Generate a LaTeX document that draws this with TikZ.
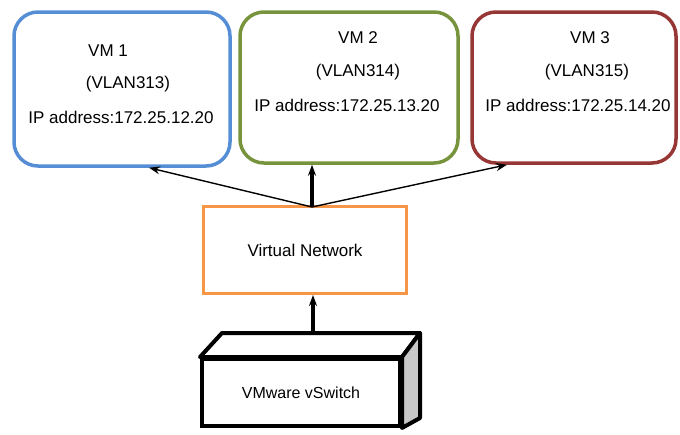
\documentclass[tikz,border=0pt]{standalone}
\usepackage{fontspec}
\setmainfont{Liberation Sans}
\usetikzlibrary{arrows.meta,calc}

\definecolor{vmblue}{RGB}{86,142,214}
\definecolor{vmgreen}{RGB}{119,147,60}
\definecolor{vmred}{RGB}{150,55,53}
\definecolor{netorange}{RGB}{247,150,70}
\definecolor{sidegray}{RGB}{200,200,200}

\begin{document}
\begin{tikzpicture}[x=1pt,y=-1pt,
  vmbox/.style={draw,line width=3.5pt,rounded corners=24pt,inner sep=0pt},
  lbl/.style={font=\fontsize{17}{20}\selectfont,inner sep=0pt},
  link/.style={-{Stealth[length=11pt,width=8pt]},line width=1.4pt},
  trunk/.style={-{Stealth[length=11pt,width=8pt]},line width=3.8pt}]
\useasboundingbox (0,0) rectangle (680,434);

% VM 1
\node[vmbox,vmblue,minimum width=216pt,minimum height=154pt] (vm1) at (122,89) {};
\node[lbl] (vm1name) at (108,51) {VM 1};
\node[lbl] (vm1vlan) at (128,84) {(VLAN313)};
\node[lbl] (vm1ip) at (121,117) {IP address:172.25.12.20};

% VM 2
\node[vmbox,vmgreen,minimum width=218pt,minimum height=151pt] (vm2) at (349,87.5) {};
\node[lbl] (vm2name) at (358,38) {VM 2};
\node[lbl] (vm2vlan) at (358,72) {(VLAN314)};
\node[lbl] (vm2ip) at (347,105) {IP address:172.25.13.20};

% VM 3
\node[vmbox,vmred,minimum width=204pt,minimum height=151pt] (vm3) at (574,87.5) {};
\node[lbl] (vm3name) at (590,38) {VM 3};
\node[lbl] (vm3vlan) at (587,72) {(VLAN315)};
\node[lbl] (vm3ip) at (578,105) {IP address:172.25.14.20};

% virtual network
\node[draw=netorange,line width=3pt,minimum width=203pt,minimum height=87pt,
  lbl] (net) at (305,250) {Virtual Network};
\coordinate (hub) at (312,207);

% vswitch box
\node[draw,line width=4pt,minimum width=198pt,minimum height=67pt,
  lbl,font=\fontsize{16}{19}\selectfont] (vswitch) at (301,392.5) {VMware vSwitch};
\coordinate (topback) at (313,333);
\filldraw[fill=white,line width=4pt,line join=round]
  (vswitch.north west) -- (222,333) -- (420,333) -- (vswitch.north east) -- cycle;
\filldraw[fill=sidegray,line width=4pt,line join=round]
  (vswitch.north east) -- (420,333) -- (420,418) -- (vswitch.south east) -- cycle;

% links
\draw[link] (hub) -- ($(vm1.south)+(27,0)$);
\draw[link] (hub) -- ($(vm3.south)+(-67,0)$);
\draw[trunk] (hub) -- (hub |- vm2.south);
\draw[trunk] (topback) -- (topback |- net.south);
\end{tikzpicture}
\end{document}
